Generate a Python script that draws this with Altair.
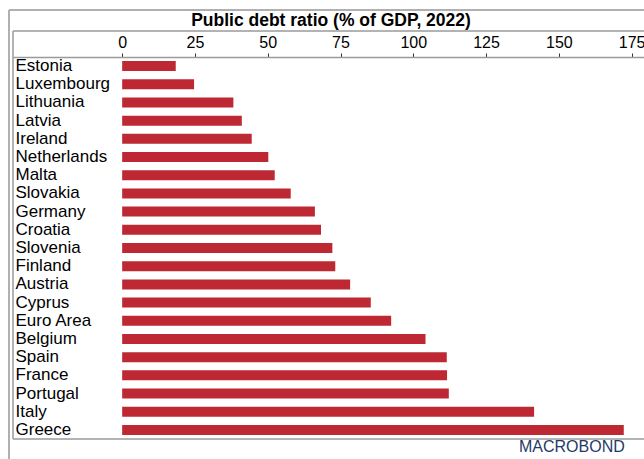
import altair as alt
import pandas as pd

countries = ["Estonia", "Luxembourg", "Lithuania", "Latvia", "Ireland", "Netherlands",
             "Malta", "Slovakia", "Germany", "Croatia", "Slovenia", "Finland", "Austria",
             "Cyprus", "Euro Area", "Belgium", "Spain", "France", "Portugal", "Italy", "Greece"]
debt_ratio = [18.4, 24.7, 38.2, 41.1, 44.5, 50.2, 52.4, 57.9, 66.2, 68.3, 72.2, 73.2,
              78.3, 85.4, 92.4, 104.2, 111.5, 111.6, 112.2, 141.5, 172.3]
tick_values = [0, 25, 50, 75, 100, 125, 150, 175]
title_text = "Public debt ratio (% of GDP, 2022)"
brand_text = "MACROBOND"

df = pd.DataFrame({"country": countries, "value": debt_ratio})

FONT = "Liberation Sans"
W, H = 631, 382
FRAME = "#9a9a9a"

bars = alt.Chart(df).mark_bar(color="#bd2832").encode(
    x=alt.X("value:Q",
            scale=alt.Scale(domain=[-37.5, 179.25], nice=False, zero=False),
            axis=alt.Axis(orient="top", values=tick_values, title=None,
                          labelFontSize=16, labelFont=FONT, labelColor="#000000",
                          tickSize=4, tickColor="#333333", labelPadding=3,
                          domainColor=FRAME, domainWidth=1.5, grid=False)),
    y=alt.Y("country:N", sort=countries,
            scale=alt.Scale(paddingInner=0.45, paddingOuter=0.225),
            axis=alt.Axis(orient="left", title=None, ticks=False, tickSize=0,
                          domain=False, labelAlign="left", labelPadding=-2,
                          labelFontSize=17, labelFont=FONT, labelColor="#000000",
                          labelBaseline="middle")),
)

one = alt.Data(values=[{"k": 1}])

def hrule(y, x1, x2, color=FRAME, w=1.5):
    return alt.Chart(one).mark_rule(color=color, strokeWidth=w).encode(
        x=alt.value(x1), x2=alt.value(x2), y=alt.value(y))

def vrule(x, y1, y2, color=FRAME, w=1.5):
    return alt.Chart(one).mark_rule(color=color, strokeWidth=w).encode(
        x=alt.value(x), y=alt.value(y1), y2=alt.value(y2))

frames = [
    vrule(0, -26, H), hrule(-26, 0, W), hrule(H, 0, W),
    vrule(-4, -47, H + 25, color="#b0b0b0", w=2), hrule(-47, -4, W, color="#b0b0b0", w=2),
]

title = alt.Chart(one).mark_text(
    text=title_text, font=FONT, fontSize=17.5, fontWeight="bold", color="#000000",
    align="center", baseline="middle"
).encode(x=alt.value(318), y=alt.value(-36))

brand = alt.Chart(one).mark_text(
    text=brand_text, font=FONT, fontSize=16, color="#1f3a68",
    align="left", baseline="middle"
).encode(x=alt.value(506), y=alt.value(390))

chart = alt.layer(bars, *frames, title, brand).properties(
    width=W, height=H,
    autosize=alt.AutoSizeParams(type="none"),
    padding={"left": 13, "top": 57, "right": 0, "bottom": 20},
    background="#ffffff",
).configure_view(strokeWidth=0)

chart.save("out.html", embed_options={"renderer": "svg", "actions": False})
